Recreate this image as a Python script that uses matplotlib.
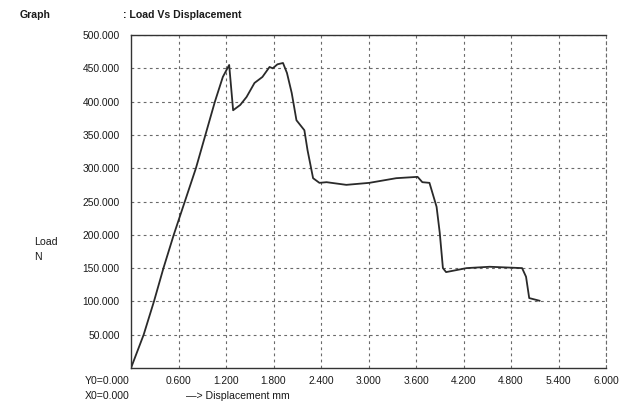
import matplotlib
matplotlib.use("Agg")
import matplotlib.pyplot as plt

plt.rcParams['font.family'] = ['Liberation Sans', 'DejaVu Sans']

# Data (Displacement mm, Load N)
displacement = [0.00, 0.16, 0.29, 0.41, 0.54, 0.68, 0.82, 0.94, 1.06, 1.16, 1.24,
                1.29, 1.38, 1.46, 1.56, 1.66, 1.75, 1.79, 1.85, 1.92,
                1.97, 2.03, 2.09, 2.19, 2.23, 2.30, 2.38, 2.47, 2.72, 3.01,
                3.35, 3.62, 3.68, 3.77, 3.86, 3.90, 3.94, 3.98, 4.24, 4.53,
                4.94, 4.99, 5.03, 5.16]
load = [0, 50, 100, 150, 200, 250, 300, 350, 400, 437, 455,
        387, 395, 407, 428, 437, 452, 450, 456, 458,
        443, 413, 372, 357, 327, 285, 278, 279, 275, 278,
        285, 287, 279, 278, 242, 203, 150, 144, 150, 152,
        150, 137, 105, 101]

x_ticks = [0.6, 1.2, 1.8, 2.4, 3.0, 3.6, 4.2, 4.8, 5.4, 6.0]
x_tick_labels = ["0.600", "1.200", "1.800", "2.400", "3.000", "3.600",
                 "4.200", "4.800", "5.400", "6.000"]
y_ticks = [50, 100, 150, 200, 250, 300, 350, 400, 450, 500]
y_tick_labels = ["50.000", "100.000", "150.000", "200.000", "250.000",
                 "300.000", "350.000", "400.000", "450.000", "500.000"]

fig = plt.figure(figsize=(6.25, 4.05), dpi=100)
ax = fig.add_axes([131 / 625, 1 - 368 / 405, (606 - 131) / 625, (368 - 35) / 405])

ax.plot(displacement, load, color='#2a2a2a', lw=1.3)

ax.set_xlim(0, 6.0)
ax.set_ylim(0, 500)
ax.set_xticks(x_ticks)
ax.set_xticklabels(x_tick_labels)
ax.set_yticks(y_ticks)
ax.set_yticklabels(y_tick_labels)
ax.tick_params(length=0, labelsize=7.4, colors='#1a1a1a')
ax.tick_params(axis='y', pad=8)
ax.tick_params(axis='x', pad=6)

ax.grid(True, color='#6a6a6a', linestyle=(0, (2.5, 3)), lw=0.8)
for s in ['left', 'bottom', 'top']:
    ax.spines[s].set_color('#333333')
    ax.spines[s].set_linewidth(1.0)
ax.spines['right'].set_linestyle((0, (2.5, 3)))
ax.spines['right'].set_color('#6a6a6a')
ax.spines['right'].set_linewidth(0.8)

fs = 7.6
fig.text(20 / 625, 1 - 15 / 405, "Graph", fontsize=fs, fontweight='bold', va='center', ha='left', color='#1a1a1a')
fig.text(123 / 625, 1 - 15 / 405, ": Load Vs Displacement", fontsize=fs, fontweight='bold', va='center', ha='left', color='#1a1a1a')
fig.text(34 / 625, 1 - 242 / 405, "Load", fontsize=fs, va='center', ha='left', color='#1a1a1a')
fig.text(34 / 625, 1 - 257 / 405, "N", fontsize=fs, va='center', ha='left', color='#1a1a1a')
fig.text(85 / 625, 1 - 381 / 405, "Y0=0.000", fontsize=fs, va='center', ha='left', color='#1a1a1a')
fig.text(85 / 625, 1 - 396 / 405, "X0=0.000", fontsize=fs, va='center', ha='left', color='#1a1a1a')
fig.text(186 / 625, 1 - 396 / 405, "\u2014> Displacement mm", fontsize=fs, va='center', ha='left', color='#1a1a1a')

fig.savefig("out.png", dpi=100)
